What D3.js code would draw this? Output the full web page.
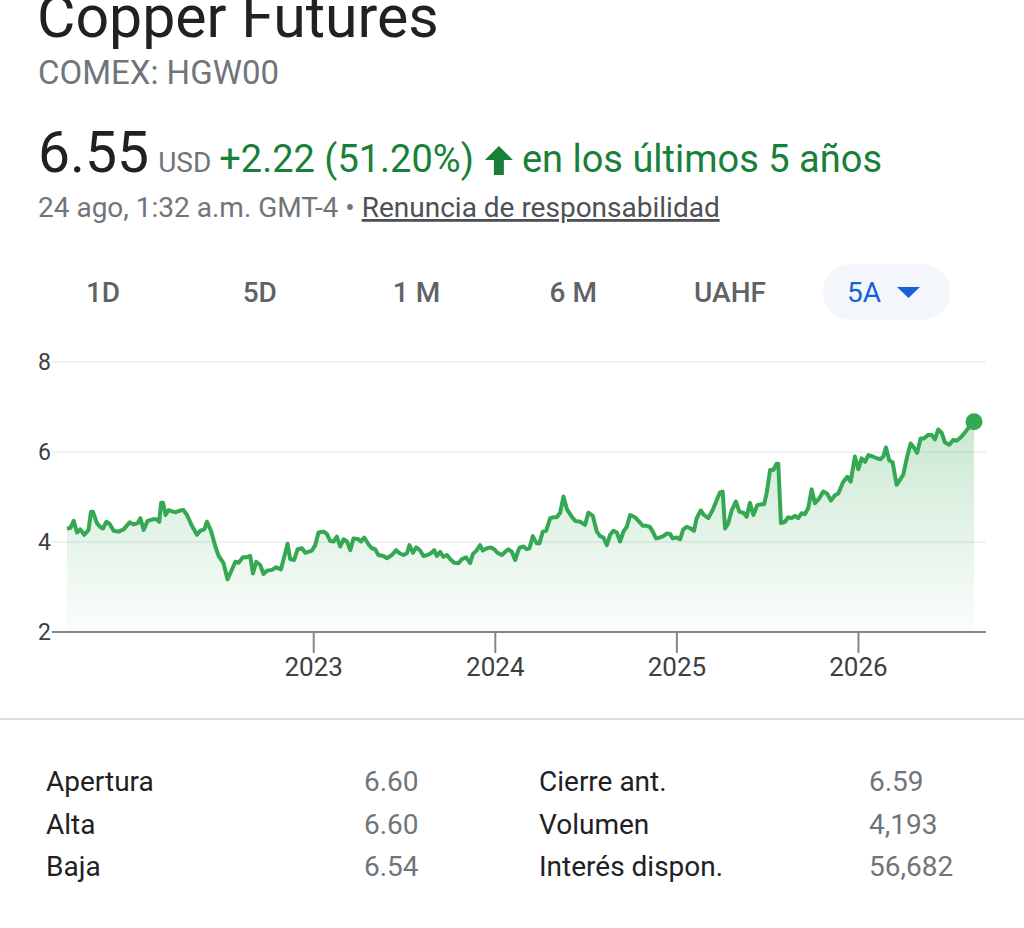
<!DOCTYPE html>
<html>
<head>
<meta charset="utf-8">
<script src="https://cdn.jsdelivr.net/npm/d3@7"></script>
<style>
  body { margin: 0; background: #fff; }
  svg { display: block; font-family: Roboto, "Noto Sans", sans-serif; }
</style>
</head>
<body>
<div id="chart"></div>
<script>
// price series: dates as decimal years, values in USD/lb
const dates = [
  2021.644, 2021.662, 2021.681, 2021.699, 2021.717, 2021.739, 2021.763, 2021.776, 2021.787, 2021.809,
  2021.828, 2021.842, 2021.861, 2021.879, 2021.901, 2021.928, 2021.956, 2021.989, 2022.011, 2022.033,
  2022.048, 2022.066, 2022.088, 2022.121, 2022.140, 2022.152, 2022.162, 2022.173, 2022.187, 2022.204,
  2022.240, 2022.268, 2022.286, 2022.305, 2022.332, 2022.360, 2022.378, 2022.400, 2022.415, 2022.437,
  2022.461, 2022.479, 2022.506, 2022.528, 2022.547, 2022.571, 2022.589, 2022.613, 2022.631, 2022.653,
  2022.668, 2022.686, 2022.708, 2022.726, 2022.745, 2022.773, 2022.796, 2022.822, 2022.859,
  2022.873, 2022.895, 2022.914, 2022.938, 2022.956, 2022.993, 2023.011, 2023.029, 2023.057, 2023.075,
  2023.094, 2023.112, 2023.130, 2023.149, 2023.167, 2023.186, 2023.204, 2023.222, 2023.249, 2023.263,
  2023.281, 2023.304, 2023.323, 2023.341, 2023.359, 2023.387, 2023.406, 2023.433, 2023.457, 2023.475,
  2023.497, 2023.516, 2023.530, 2023.549, 2023.567, 2023.589, 2023.607, 2023.629, 2023.648, 2023.666,
  2023.681, 2023.699, 2023.717, 2023.736, 2023.754, 2023.776, 2023.800, 2023.819, 2023.842, 2023.864,
  2023.879, 2023.901, 2023.919, 2023.934, 2023.956, 2023.978, 2023.996, 2024.015, 2024.039, 2024.057,
  2024.075, 2024.094, 2024.112, 2024.130,
  2024.139, 2024.158, 2024.176, 2024.191, 2024.209, 2024.231, 2024.246, 2024.264, 2024.283, 2024.305,
  2024.323, 2024.341, 2024.360, 2024.378, 2024.397, 2024.424, 2024.442, 2024.470, 2024.497, 2024.515,
  2024.540, 2024.562, 2024.580, 2024.598, 2024.617, 2024.635, 2024.653, 2024.672, 2024.690, 2024.708,
  2024.727, 2024.745, 2024.772, 2024.791, 2024.815, 2024.837, 2024.855, 2024.870, 2024.888, 2024.910,
  2024.928, 2024.947, 2024.965, 2024.980, 2025.002, 2025.020, 2025.038, 2025.057, 2025.079, 2025.097,
  2025.112, 2025.134, 2025.152, 2025.176, 2025.200, 2025.222, 2025.240, 2025.255, 2025.268, 2025.286,
  2025.305, 2025.328, 2025.347, 2025.369, 2025.387,
  2025.405, 2025.424, 2025.446, 2025.470, 2025.483, 2025.497, 2025.516, 2025.534, 2025.552, 2025.561,
  2025.576, 2025.598, 2025.616, 2025.635, 2025.653, 2025.671, 2025.690, 2025.708, 2025.726, 2025.745,
  2025.763, 2025.787, 2025.809, 2025.831, 2025.851, 2025.873, 2025.892, 2025.919, 2025.941, 2025.960,
  2025.983, 2026.002, 2026.020, 2026.039, 2026.057, 2026.081, 2026.103, 2026.125, 2026.139, 2026.154,
  2026.172, 2026.191, 2026.213, 2026.231, 2026.249, 2026.271, 2026.290, 2026.308, 2026.326, 2026.345,
  2026.363, 2026.387, 2026.406, 2026.424, 2026.442, 2026.461, 2026.479, 2026.503, 2026.525, 2026.543,
  2026.565, 2026.589, 2026.607, 2026.639
];
const prices = [
  4.30, 4.31, 4.47, 4.21, 4.28, 4.16, 4.27, 4.67, 4.67, 4.42,
  4.33, 4.30, 4.45, 4.40, 4.25, 4.23, 4.28, 4.44, 4.39, 4.42,
  4.53, 4.27, 4.47, 4.51, 4.50, 4.45, 4.87, 4.87, 4.60, 4.71,
  4.66, 4.70, 4.71, 4.60, 4.36, 4.16, 4.25, 4.28, 4.45, 4.25,
  3.90, 3.69, 3.53, 3.17, 3.34, 3.56, 3.54, 3.66, 3.66, 3.69,
  3.30, 3.56, 3.49, 3.29, 3.36, 3.38, 3.44, 3.39, 3.96,
  3.62, 3.60, 3.84, 3.86, 3.76, 3.81, 3.93, 4.21, 4.23, 4.18,
  4.02, 4.01, 4.12, 3.90, 4.06, 4.01, 3.82, 4.08, 4.06, 4.01,
  4.10, 3.95, 3.86, 3.84, 3.71, 3.69, 3.64, 3.71, 3.82, 3.75,
  3.71, 3.75, 3.93, 3.76, 3.88, 3.81, 3.69, 3.71, 3.75, 3.82,
  3.69, 3.78, 3.67, 3.71, 3.62, 3.54, 3.53, 3.62, 3.66, 3.53,
  3.73, 3.82, 3.93, 3.81, 3.86, 3.88, 3.84, 3.76, 3.71, 3.78,
  3.84, 3.78, 3.60, 3.82,
  3.88, 3.90, 3.84, 3.86, 4.13, 3.97, 3.97, 4.23, 4.25, 4.53,
  4.55, 4.55, 4.65, 5.01, 4.73, 4.56, 4.47, 4.45, 4.38, 4.65,
  4.58, 4.23, 4.13, 4.10, 3.93, 4.16, 4.25, 4.21, 4.01, 4.23,
  4.34, 4.60, 4.55, 4.47, 4.36, 4.36, 4.33, 4.23, 4.08, 4.10,
  4.13, 4.19, 4.18, 4.08, 4.10, 4.06, 4.28, 4.34, 4.30, 4.25,
  4.53, 4.70, 4.60, 4.53, 4.71, 4.93, 5.10, 5.12, 4.30, 4.42,
  4.71, 4.90, 4.67, 4.65, 4.56,
  4.87, 4.60, 4.82, 4.84, 4.84, 5.08, 5.60, 5.60, 5.74, 5.74,
  4.42, 4.45, 4.55, 4.53, 4.58, 4.53, 4.64, 4.62, 4.75, 5.17,
  4.86, 4.97, 5.12, 5.07, 4.92, 5.04, 5.08, 5.34, 5.45, 5.34,
  5.90, 5.62, 5.86, 5.78, 5.93, 5.90, 5.86, 5.84, 5.90, 6.10,
  5.81, 5.77, 5.27, 5.38, 5.49, 5.90, 6.19, 6.10, 5.98, 6.30,
  6.30, 6.38, 6.38, 6.28, 6.50, 6.43, 6.21, 6.16, 6.27, 6.25,
  6.32, 6.43, 6.53, 6.67
];
const yTicks = [2, 4, 6, 8];
const yearTicks = [2023, 2024, 2025, 2026];
const ranges = ["1D", "5D", "1 M", "6 M", "UAHF"];
const activeRange = "5A";
const statsLeft = [["Apertura", "6.60"], ["Alta", "6.60"], ["Baja", "6.54"]];
const statsRight = [["Cierre ant.", "6.59"], ["Volumen", "4,193"], ["Interés dispon.", "56,682"]];

const data = dates.map((d, i) => ({ t: d, v: prices[i] }));

const W = 1024, H = 928;
const green = "#188038";
const svg = d3.select("#chart").append("svg")
    .attr("width", W)
    .attr("height", H);

// ---- header ----
svg.append("text")
    .attr("x", 37).attr("y", 37)
    .style("font-size", "59px")
    .style("fill", "#202124")
    .text("Copper Futures");

svg.append("text")
    .attr("x", 38).attr("y", 84)
    .style("font-size", "33px")
    .style("fill", "#70757a")
    .text("COMEX: HGW00");

const priceLine = svg.append("text")
    .attr("x", 38).attr("y", 172)
    .style("fill", "#202124");
priceLine.append("tspan").style("font-size", "57px").text("6.55");
priceLine.append("tspan").attr("dx", 9).style("font-size", "28px").style("fill", "#70757a").text("USD");
priceLine.append("tspan").attr("dx", 8).style("font-size", "38px").style("fill", green).text("+2.22 (51.20%)");

// up arrow, placed after the change text
const ax = priceLine.node().getBBox();
const a0 = ax.x + ax.width + 11;
svg.append("path")
    .attr("d", `M${a0 + 14},146 L${a0},160 L${a0 + 9},160 L${a0 + 9},175 L${a0 + 19},175 L${a0 + 19},160 L${a0 + 28},160 Z`)
    .style("fill", green);

svg.append("text")
    .attr("x", a0 + 37).attr("y", 172)
    .style("font-size", "38px")
    .style("fill", green)
    .text("en los últimos 5 años");

const dateLine = svg.append("text")
    .attr("x", 38).attr("y", 217)
    .style("font-size", "28px")
    .style("fill", "#70757a");
dateLine.append("tspan").text("24 ago, 1:32 a.m. GMT-4 • ");
dateLine.append("tspan")
    .style("fill", "#4d5156")
    .style("text-decoration", "underline")
    .text("Renuncia de responsabilidad");

// ---- range tabs ----
const tabX = d3.scalePoint().domain(ranges).range([103, 730]);

svg.selectAll(".tab")
    .data(ranges)
    .enter().append("text")
    .attr("class", "tab")
    .attr("x", d => tabX(d))
    .attr("y", 302)
    .attr("text-anchor", "middle")
    .style("font-size", "28px")
    .style("font-weight", 500)
    .style("fill", "#5f6368")
    .text(d => d);

svg.append("rect")
    .attr("x", 823).attr("y", 264)
    .attr("width", 127).attr("height", 56)
    .attr("rx", 28)
    .style("fill", "#f3f6fb");

svg.append("text")
    .attr("x", 864).attr("y", 302)
    .attr("text-anchor", "middle")
    .style("font-size", "28px")
    .style("fill", "#1a5fd6")
    .text(activeRange);

svg.append("path")
    .attr("d", "M897,287 L920,287 L908.5,298 Z")
    .style("fill", "#1a5fd6");

// ---- chart ----
const x = d3.scaleLinear()
    .domain(d3.extent(dates))
    .range([67, 974]);
const y = d3.scaleLinear()
    .domain([2, 8])
    .range([632, 362]);

const defs = svg.append("defs");
const grad = defs.append("linearGradient")
    .attr("id", "areaGrad")
    .attr("x1", 0).attr("y1", 0).attr("x2", 0).attr("y2", 1);
grad.append("stop").attr("offset", "0%").attr("stop-color", "#34a853").attr("stop-opacity", 0.26);
grad.append("stop").attr("offset", "100%").attr("stop-color", "#34a853").attr("stop-opacity", 0.02);

// gridlines
svg.append("g")
    .selectAll("line")
    .data(yTicks.filter(d => d !== 2))
    .enter().append("line")
    .attr("x1", 52).attr("x2", 986)
    .attr("y1", d => y(d)).attr("y2", d => y(d))
    .style("stroke", "#f0f1f2")
    .style("stroke-width", 2);

// y labels
const gY = svg.append("g")
    .attr("transform", "translate(51,0)")
    .call(d3.axisLeft(y).tickValues(yTicks).tickFormat(d3.format("d")).tickSize(0).tickPadding(0));
gY.select(".domain").remove();
gY.selectAll("text")
    .style("font-family", "Roboto, sans-serif")
    .style("font-size", "23px")
    .style("fill", "#3c4043");

// area + line
svg.append("path")
    .datum(data)
    .attr("d", d3.area().x(d => x(d.t)).y0(y(2)).y1(d => y(d.v)))
    .style("fill", "url(#areaGrad)");

svg.append("path")
    .datum(data)
    .attr("d", d3.line().x(d => x(d.t)).y(d => y(d.v)))
    .style("fill", "none")
    .style("stroke", "#34a853")
    .style("stroke-width", 4)
    .style("stroke-linejoin", "round");

const last = data[data.length - 1];
svg.append("circle")
    .attr("cx", x(last.t)).attr("cy", y(last.v))
    .attr("r", 8.5)
    .style("fill", "#34a853");

// x axis
svg.append("line")
    .attr("x1", 52).attr("x2", 986)
    .attr("y1", y(2)).attr("y2", y(2))
    .style("stroke", "#80868b")
    .style("stroke-width", 2);

const gX = svg.append("g")
    .attr("transform", `translate(0,${y(2)})`)
    .call(d3.axisBottom(x).tickValues(yearTicks).tickFormat(d3.format("d")).tickSize(21).tickPadding(5));
gX.select(".domain").remove();
gX.selectAll(".tick line").style("stroke", "#80868b").style("stroke-width", 2);
gX.selectAll("text")
    .style("font-family", "Roboto, sans-serif")
    .style("font-size", "26px")
    .style("fill", "#3c4043");

// separator
svg.append("line")
    .attr("x1", 0).attr("x2", W)
    .attr("y1", 719).attr("y2", 719)
    .style("stroke", "#dadce0")
    .style("stroke-width", 2);

// ---- stats ----
const rowY = d3.scalePoint().domain([0, 1, 2]).range([791, 876]);

function statsColumn(rows, labelX, valueX) {
    const g = svg.append("g");
    g.selectAll(".lbl")
        .data(rows)
        .enter().append("text")
        .attr("x", labelX)
        .attr("y", (d, i) => rowY(i))
        .style("font-size", "28px")
        .style("fill", "#202124")
        .text(d => d[0]);
    g.selectAll(".val")
        .data(rows)
        .enter().append("text")
        .attr("x", valueX)
        .attr("y", (d, i) => rowY(i))
        .style("font-size", "28px")
        .style("fill", "#70757a")
        .text(d => d[1]);
}
statsColumn(statsLeft, 46, 364);
statsColumn(statsRight, 539, 869);
</script>
</body>
</html>
